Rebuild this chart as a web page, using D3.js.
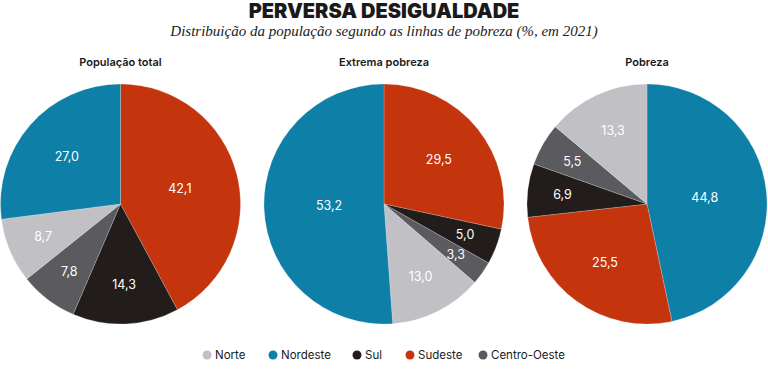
<!DOCTYPE html>
<html>
<head>
<meta charset="utf-8">
<script src="https://cdn.jsdelivr.net/npm/d3@7"></script>
<style>
  body { margin: 0; background: #fff; }
  svg { display: block; }
</style>
</head>
<body>
<div id="chart"></div>
<script>
const regions = ['Norte', 'Nordeste', 'Sul', 'Sudeste', 'Centro-Oeste'];
const colors = ['#c0c0c5', '#0e7fa6', '#221c1b', '#c4340d', '#5a5a5f'];

const pieTitles = ['População total', 'Extrema pobreza', 'Pobreza'];
// order clockwise from the top of each pie
const pieOrder = [
  ['Sudeste', 'Sul', 'Centro-Oeste', 'Norte', 'Nordeste'],
  ['Sudeste', 'Sul', 'Centro-Oeste', 'Norte', 'Nordeste'],
  ['Nordeste', 'Sudeste', 'Sul', 'Centro-Oeste', 'Norte'],
];
const populacaoTotal = [42.1, 14.3, 7.8, 8.7, 27.0];
const extremaPobreza = [29.5, 5.0, 3.3, 13.0, 53.2];
const pobreza = [44.8, 25.5, 6.9, 5.5, 13.3];
const pieValues = [populacaoTotal, extremaPobreza, pobreza];

const width = 768;
const height = 374;
const radius = 120;
const centers = [120.5, 384, 647];

const svg = d3.select('#chart')
  .append('svg')
    .attr('width', width)
    .attr('height', height);

const color = d3.scaleOrdinal()
  .domain(regions)
  .range(colors);

svg.append('text')
  .attr('x', width / 2)
  .attr('y', 18)
  .attr('text-anchor', 'middle')
  .attr('font-family', 'Inter, Roboto, sans-serif')
  .attr('font-weight', 900)
  .attr('font-size', 20)
  .attr('fill', '#1a1a1a')
  .text('PERVERSA DESIGUALDADE');

svg.append('text')
  .attr('x', width / 2)
  .attr('y', 36)
  .attr('text-anchor', 'middle')
  .attr('font-family', '"Liberation Serif", "DejaVu Serif", serif')
  .attr('font-style', 'italic')
  .attr('font-size', 15)
  .attr('fill', '#222')
  .text('Distribuição da população segundo as linhas de pobreza (%, em 2021)');

const pie = d3.pie()
  .sort(null)
  .value(d => d.value);

const arc = d3.arc()
  .innerRadius(0)
  .outerRadius(radius);

pieValues.forEach((values, i) => {
  const rows = pieOrder[i].map((region, j) => ({ region, value: values[j] }));
  const total = d3.sum(values);

  const g = svg.append('g')
    .attr('transform', `translate(${centers[i]}, 204)`);

  svg.append('text')
    .attr('x', centers[i])
    .attr('y', 66)
    .attr('text-anchor', 'middle')
    .attr('font-family', 'Inter, Roboto, sans-serif')
    .attr('font-weight', 600)
    .attr('font-size', 11)
    .attr('fill', '#1a1a1a')
    .text(pieTitles[i]);

  const arcs = g.selectAll('.arc')
    .data(pie(rows))
  .enter().append('g')
    .attr('class', 'arc');

  arcs.append('path')
    .attr('d', arc)
    .attr('fill', d => color(d.data.region))
    .attr('stroke', '#fff')
    .attr('stroke-opacity', 0.5)
    .attr('stroke-width', 0.4);

  // bigger slices get their label nearer the centre
  arcs.append('text')
    .attr('transform', d => {
      const lr = radius * (0.75 - 0.57 * d.data.value / total);
      const a = (d.startAngle + d.endAngle) / 2;
      return `translate(${lr * Math.sin(a)}, ${-lr * Math.cos(a)})`;
    })
    .attr('text-anchor', 'middle')
    .attr('dy', '0.35em')
    .attr('font-family', 'Inter, Roboto, sans-serif')
    .attr('font-size', 12.5)
    .attr('fill', '#fff')
    .text(d => d3.format('.1f')(d.data.value).replace('.', ','));
});

const legendX = [207, 273, 357, 410, 483];
const legend = svg.append('g')
  .attr('transform', 'translate(0, 355)');

const items = legend.selectAll('.item')
  .data(regions)
.enter().append('g')
  .attr('class', 'item')
  .attr('transform', (d, i) => `translate(${legendX[i]}, 0)`);

items.append('circle')
  .attr('r', 4.5)
  .attr('fill', d => color(d));

items.append('text')
  .attr('x', 8)
  .attr('dy', '0.35em')
  .attr('font-family', 'Inter, Roboto, sans-serif')
  .attr('font-size', 11.5)
  .attr('fill', '#1a1a1a')
  .text(d => d);
</script>
</body>
</html>
